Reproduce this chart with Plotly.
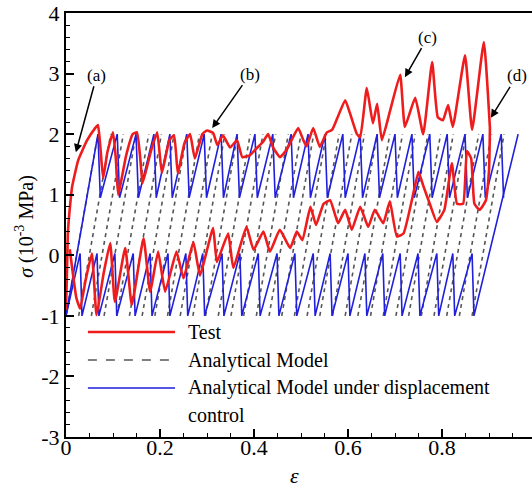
import plotly.graph_objects as go

# ---- data (strain eps, stress sigma in 1e-3 MPa) ----
# Test: upper branch (initial loading + upper oscillations)
test_up_eps = [0.000, 0.002, 0.004, 0.009, 0.013, 0.026, 0.045, 0.062, 0.068, 0.073,
               0.079, 0.088, 0.100, 0.106, 0.111, 0.128, 0.142, 0.151, 0.158, 0.163,
               0.180, 0.194, 0.204, 0.220, 0.230, 0.238, 0.252, 0.264, 0.274, 0.290,
               0.300, 0.313, 0.322, 0.334, 0.349, 0.364, 0.375, 0.391, 0.406, 0.419,
               0.430, 0.440, 0.455, 0.470, 0.494, 0.505, 0.512, 0.526, 0.540, 0.555,
               0.566, 0.577, 0.594, 0.604, 0.619, 0.626, 0.640, 0.653, 0.662, 0.672,
               0.690, 0.711, 0.721, 0.743, 0.760, 0.779, 0.791, 0.802, 0.813, 0.823,
               0.849, 0.864, 0.889, 0.902]
test_up_sig = [-0.90, -0.30, 0.37, 0.85, 1.13, 1.57, 1.90, 2.10, 2.15, 1.80,
               1.27, 1.70, 2.03, 1.60, 1.00, 1.65, 2.00, 2.03, 1.60, 1.19,
               1.70, 2.03, 1.36, 1.90, 1.98, 1.35, 1.85, 2.00, 1.60, 2.00,
               2.06, 2.02, 1.82, 1.98, 1.78, 1.90, 1.62, 1.65, 1.77, 1.87,
               2.00, 1.79, 1.62, 1.75, 2.10, 1.90, 1.80, 2.10, 1.79, 2.03,
               2.07, 2.26, 2.56, 2.35, 2.00, 1.95, 2.76, 2.18, 2.50, 1.90,
               2.40, 2.98, 2.12, 2.60, 2.00, 3.19, 2.28, 2.23, 2.48, 2.12,
               3.30, 2.07, 3.52, 2.10]
# Test: lower branch
test_lo_eps = [0.008, 0.022, 0.030, 0.042, 0.055, 0.065, 0.080, 0.094, 0.104, 0.126,
               0.140, 0.165, 0.179, 0.196, 0.211, 0.235, 0.250, 0.271, 0.285, 0.313,
               0.321, 0.345, 0.356, 0.384, 0.399, 0.420, 0.434, 0.455, 0.477, 0.491,
               0.503, 0.520, 0.532, 0.548, 0.562, 0.579, 0.594, 0.608, 0.626, 0.643,
               0.657, 0.675, 0.689, 0.704, 0.718, 0.739, 0.750, 0.760, 0.774, 0.789,
               0.805, 0.821, 0.832, 0.845, 0.853, 0.862, 0.869, 0.880, 0.893, 0.900,
               0.902]
test_lo_sig = [0.10, -0.70, -0.88, -0.40, 0.03, -0.99, -0.30, 0.20, -0.77, 0.12,
               -0.82, 0.28, -0.60, 0.06, -0.60, 0.06, -0.38, 0.22, -0.33, 0.45,
               -0.11, 0.36, -0.21, 0.47, 0.09, 0.39, 0.06, 0.42, 0.12, 0.39,
               0.25, 0.80, 0.50, 0.85, 0.91, 0.53, 0.75, 0.42, 0.80, 0.47,
               0.75, 0.53, 0.89, 0.31, 0.36, 1.02, 1.38, 1.15, 0.85, 0.55,
               0.75, 1.52, 0.85, 0.85, 1.72, 1.60, 0.85, 0.75, 0.90, 1.40,
               2.10]

# Analytical model (dashed): loading lines from sigma=-1 to sigma=2
model_start_eps = [0.000, 0.027, 0.054, 0.081, 0.108, 0.135, 0.162, 0.189, 0.216, 0.243,
                   0.270, 0.297, 0.324, 0.351, 0.378, 0.405, 0.432, 0.459, 0.486, 0.513,
                   0.540, 0.567, 0.594, 0.621, 0.648, 0.675, 0.702, 0.729, 0.756, 0.783,
                   0.810, 0.837, 0.864]
model_end_eps = [0.068, 0.095, 0.122, 0.149, 0.176, 0.203, 0.230, 0.257, 0.284, 0.311,
                 0.338, 0.365, 0.392, 0.419, 0.446, 0.473, 0.500, 0.527, 0.554, 0.581,
                 0.608, 0.635, 0.662, 0.689, 0.716, 0.743, 0.770, 0.797, 0.824, 0.851,
                 0.878, 0.905, 0.932]
model_sig = [-1.0, 2.0]

# Analytical model under displacement control (blue sawtooth)
disp_up_peak_eps = [0.068, 0.109, 0.149, 0.187, 0.221, 0.257, 0.294, 0.330, 0.364, 0.402,
                    0.440, 0.479, 0.515, 0.551, 0.589, 0.626, 0.662, 0.700, 0.736, 0.774,
                    0.811, 0.849, 0.887, 0.926]
disp_up_trough_eps = [0.073, 0.114, 0.154, 0.192, 0.226, 0.262, 0.299, 0.335, 0.369, 0.407,
                      0.445, 0.484, 0.520, 0.556, 0.594, 0.631, 0.667, 0.705, 0.741, 0.779,
                      0.816, 0.854, 0.892, 0.931]
disp_lo_peak_eps = [0.030, 0.066, 0.104, 0.143, 0.179, 0.217, 0.255, 0.291, 0.332, 0.370,
                    0.409, 0.449, 0.487, 0.526, 0.562, 0.600, 0.636, 0.674, 0.711, 0.749,
                    0.789, 0.823, 0.864]
disp_lo_trough_eps = [0.034, 0.070, 0.108, 0.147, 0.183, 0.221, 0.259, 0.295, 0.336, 0.374,
                      0.413, 0.453, 0.491, 0.530, 0.566, 0.604, 0.640, 0.678, 0.715, 0.753,
                      0.793, 0.827, 0.868]
disp_up_sig = [2.0, 0.95]    # peak, trough
disp_lo_sig = [0.03, -1.0]   # peak, trough
disp_start = [0.0, -1.0]
disp_end = [0.962, 2.0]

serif = "Liberation Serif"

# blue path: upper band (starts with first loading line), then lower band ending with last loading line
bx, by = [disp_start[0]], [disp_start[1]]
for p, t in zip(disp_up_peak_eps, disp_up_trough_eps):
    bx += [p, t]
    by += [disp_up_sig[0], disp_up_sig[1]]
bx.append(None); by.append(None)
bx.append(disp_start[0]); by.append(disp_start[1])
for p, t in zip(disp_lo_peak_eps, disp_lo_trough_eps):
    bx += [p, t]
    by += [disp_lo_sig[0], disp_lo_sig[1]]
bx.append(disp_end[0]); by.append(disp_end[1])

# dashed model lines
gx, gy = [], []
for s, e in zip(model_start_eps, model_end_eps):
    gx += [s, e, None]
    gy += [model_sig[0], model_sig[1], None]

fig = go.Figure()
fig.add_trace(go.Scatter(x=gx, y=gy, mode="lines", name="Analytical Model",
                         line=dict(color="#555555", width=1.6, dash="4px,4px")))
fig.add_trace(go.Scatter(x=bx, y=by, mode="lines", name="Analytical Model under displacement control",
                         line=dict(color="#1f1fdc", width=1.6)))
fig.add_trace(go.Scatter(x=test_up_eps, y=test_up_sig, mode="lines", name="Test",
                         line=dict(color="#ee1c1c", width=2.6, shape="spline", smoothing=0.4)))
fig.add_trace(go.Scatter(x=test_lo_eps, y=test_lo_sig, mode="lines", showlegend=False,
                         line=dict(color="#ee1c1c", width=2.6, shape="spline", smoothing=0.4)))

# hand-drawn legend inside the plot (long line samples as in the original)
legend_rows = [("Test", "#ee1c1c", "solid", 2.6, 0.2476),
               ("Analytical Model", "#555555", "dash", 1.6, 0.1816),
               ("Analytical Model under displacement", "#1f1fdc", "solid", 1.6, 0.1156)]
shapes = []
annotations = []
for label, col, dash, w, yy in legend_rows:
    shapes.append(dict(type="line", xref="paper", yref="paper", x0=0.047, x1=0.234, y0=yy, y1=yy,
                       line=dict(color=col, width=w, dash=dash)))
    annotations.append(dict(xref="paper", yref="paper", x=0.258, y=yy, text=label, showarrow=False,
                            xanchor="left", yanchor="middle", font=dict(family=serif, size=20, color="black")))
annotations.append(dict(xref="paper", yref="paper", x=0.258, y=0.052, text="control", showarrow=False,
                        xanchor="left", yanchor="middle", font=dict(family=serif, size=20, color="black")))

# arrow labels
for txt, ex, sy, dx, dy in [("(a)", 0.021, 1.70, 21, -77), ("(b)", 0.311, 2.10, 38, -54),
                            ("(c)", 0.721, 2.94, 23, -40), ("(d)", 0.904, 2.27, 26, -42)]:
    annotations.append(dict(x=ex, y=sy, xref="x", yref="y", text=txt, showarrow=True,
                            ax=dx, ay=dy, arrowhead=2, arrowsize=1.1, arrowwidth=1.5, arrowcolor="black",
                            font=dict(family=serif, size=17, color="black")))

# axis titles
annotations.append(dict(xref="paper", yref="paper", x=-0.088, y=0.498, text="<i>σ</i> (10<sup>-3</sup> MPa)",
                        xanchor="center", yanchor="middle",
                        textangle=-90, showarrow=False, font=dict(family=serif, size=20, color="black")))
annotations.append(dict(xref="paper", yref="paper", x=0.491, y=-0.09, text="<i>ε</i>",
                        xanchor="center", yanchor="middle",
                        showarrow=False, font=dict(family=serif, size=22, color="black")))

fig.update_layout(
    width=532, height=487,
    margin=dict(l=66, r=0, t=13, b=50, autoexpand=False),
    plot_bgcolor="white", paper_bgcolor="white",
    showlegend=False,
    shapes=shapes, annotations=annotations,
    font=dict(family=serif, size=22, color="black"),
    xaxis=dict(range=[0, 0.9915], tickvals=[0, 0.2, 0.4, 0.6, 0.8], ticktext=["0", "0.2", "0.4", "0.6", "0.8"],
               ticks="inside", ticklen=8, tickwidth=1.5, tickcolor="black", automargin=False,
               ticklabelstandoff=-10,
               minor=dict(dtick=0.05, ticks="inside", ticklen=4, tickcolor="black", tickwidth=1),
               showline=True, linecolor="black", linewidth=2, mirror=True,
               showgrid=False, zeroline=False),
    yaxis=dict(range=[-3, 4], tickvals=[-3, -2, -1, 0, 1, 2, 3, 4],
               ticktext=["-3", "-2", "-1", "0", "1", "2", "3", "4"],
               ticks="inside", ticklen=8, tickwidth=1.5, tickcolor="black", automargin=False,
               ticklabeloverflow="allow",
               minor=dict(dtick=0.2, ticks="inside", ticklen=4, tickcolor="black", tickwidth=1),
               showline=True, linecolor="black", linewidth=2,
               showgrid=False, zeroline=False),
)

# drop the browser's default 8px body margin so the figure sits at the window corner
fig.write_html("out.html", config={"displayModeBar": False},
               post_script="document.body.style.margin='0px';")
